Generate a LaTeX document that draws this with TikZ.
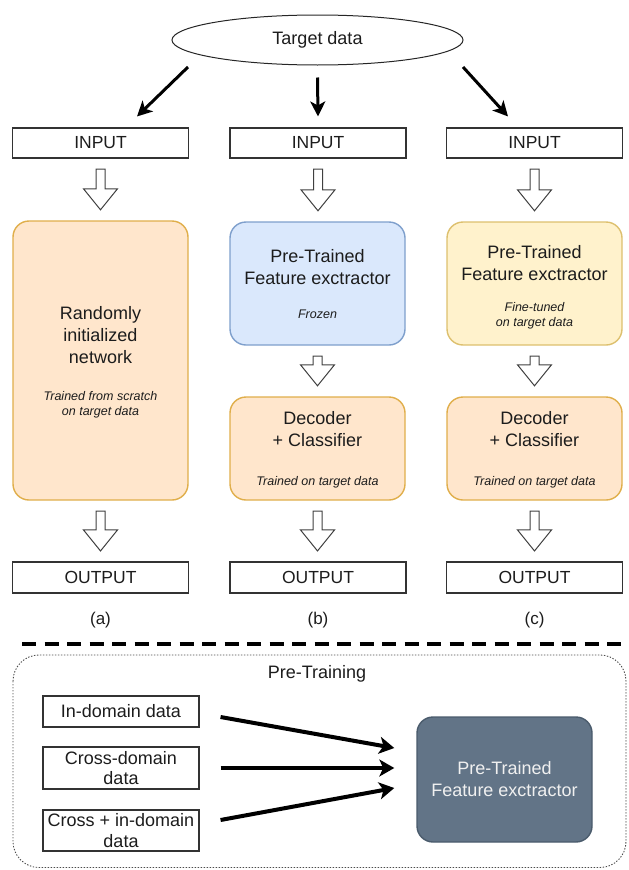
\documentclass[tikz,border=0pt]{standalone}
\usepackage{fontspec}
\setmainfont{Liberation Sans}
\usetikzlibrary{arrows.meta,calc,shapes.geometric}
\definecolor{orfill}{HTML}{FFE6CC}\definecolor{orline}{HTML}{E0AE4A}
\definecolor{blfill}{HTML}{DAE8FC}\definecolor{blline}{HTML}{7E9FCC}
\definecolor{yefill}{HTML}{FFF2CC}\definecolor{yeline}{HTML}{DDC06E}
\definecolor{dkfill}{HTML}{627487}\definecolor{dkline}{HTML}{4A5B6C}
\definecolor{txt}{HTML}{1C1C1C}
\newcommand\hollowarr[2]{%
  \path[hol] let \p1=($(#1.south)+(0,-10.5pt)$), \p2=($(#2.north)+(0,10.5pt)$) in
    (\x1-4.5pt,\y1) -- (\x1+4.5pt,\y1) -- (\x1+4.5pt,\y2+21pt) -- (\x1+17pt,\y2+21pt)
    -- (\x1,\y2) -- (\x1-17pt,\y2+21pt) -- (\x1-4.5pt,\y2+21pt) -- cycle;}
\begin{document}
\begin{tikzpicture}[x=1pt,y=-1pt,
  every node/.style={text=txt, font=\fontsize{18}{22}\selectfont},
  plainbox/.style={draw=black!80, line width=1.1pt, minimum width=176pt, inner sep=0pt,
                   font=\fontsize{17.5}{21}\selectfont},
  databox/.style={draw=black!80, line width=1.1pt, minimum width=156pt, inner sep=0pt,
                  align=center, font=\fontsize{18}{20.5}\selectfont},
  rbox/.style={line width=1.4pt, rounded corners=16pt, minimum width=175pt, inner sep=0pt},
  orbox/.style={rbox, fill=orfill, draw=orline},
  blbox/.style={rbox, fill=blfill, draw=blline},
  yebox/.style={rbox, fill=yefill, draw=yeline},
  dkbox/.style={rbox, fill=dkfill, draw=dkline, text=white!94!black, align=center},
  maintxt/.style={align=center},
  note/.style={align=center, font=\fontsize{12.5}{15}\selectfont\itshape},
  blackarrow/.style={line width=3pt, -{Stealth[length=15pt,width=15pt,inset=4pt]}},
  fatarrow/.style={line width=4pt, -{Stealth[length=15pt,width=17pt,inset=4pt]}},
  hol/.style={draw=black!75, fill=white, line width=1pt, line join=miter},
  sublabel/.style={font=\fontsize{17}{20}\selectfont}
]
\useasboundingbox (0,0) rectangle (629,870);

% top ellipse
\node[draw=black!85, ellipse, line width=1pt, minimum width=291pt, minimum height=50pt, inner sep=0pt]
  (target) at (317.5,40) {Target data};

% inputs
\node[plainbox, minimum height=30pt] (inA) at (100.5,143) {INPUT};
\node[plainbox, minimum height=30pt] (inB) at (318,143) {INPUT};
\node[plainbox, minimum height=30pt] (inC) at (534.5,143) {INPUT};

\draw[blackarrow] ($(target.center)+(-129.5pt,-27pt)$) -- ($(inA.north)+(36.5pt,11pt)$);
\draw[blackarrow] ($(target.south)+(0,-12pt)$) -- ($(inB.north)+(0,11pt)$);
\draw[blackarrow] ($(target.center)+(145.5pt,-27pt)$) -- ($(inC.north)+(-26.5pt,11pt)$);

% column a
\node[orbox, minimum height=279pt] (boxA) at (100.5,360.5) {};
\node[maintxt] (tA) at (100.5,335) {Randomly\\initialized\\network};
\node[note] (nA) at (100.5,405) {Trained from scratch\\on target data};

% column b
\node[blbox, minimum height=123pt] (featB) at (317.5,283.5) {};
\node[maintxt] (tB) at (317.5,267) {Pre-Trained\\Feature exctractor};
\node[note] (nB) at (317.5,314) {Frozen};
\node[orbox, minimum height=103pt] (decB) at (317.5,448.5) {};
\node[maintxt] (dB) at (317.5,429) {Decoder\\+ Classifier};
\node[note] (ndB) at (317.5,482) {Trained on target data};

% column c
\node[yebox, minimum height=123pt] (featC) at (534.5,283.5) {};
\node[maintxt] (tC) at (534.5,263.5) {Pre-Trained\\Feature exctractor};
\node[note] (nC) at (534.5,315.5) {Fine-tuned\\on target data};
\node[orbox, minimum height=103pt] (decC) at (534.5,448.5) {};
\node[maintxt] (dC) at (534.5,429) {Decoder\\+ Classifier};
\node[note] (ndC) at (534.5,482) {Trained on target data};

% outputs
\node[plainbox, minimum height=31pt] (outA) at (100.5,577.5) {OUTPUT};
\node[plainbox, minimum height=31pt] (outB) at (318,577.5) {OUTPUT};
\node[plainbox, minimum height=31pt] (outC) at (534.5,577.5) {OUTPUT};

\node[sublabel] (la) at (100.5,620) {(a)};
\node[sublabel] (lb) at (318,620) {(b)};
\node[sublabel] (lc) at (534.5,620) {(c)};

% hollow arrows
\hollowarr{inA}{boxA}
\hollowarr{inB}{featB}
\hollowarr{inC}{featC}
\hollowarr{featB}{decB}
\hollowarr{featC}{decC}
\hollowarr{boxA}{outA}
\hollowarr{decB}{outB}
\hollowarr{decC}{outC}

% separator
\draw[line width=4pt, dash pattern=on 14pt off 8.5pt] (22,644) -- (629,644);

% pre-training container
\draw[black!70, line width=0.9pt, dash pattern=on 1.4pt off 1.6pt, rounded corners=26pt]
  (13,655) rectangle (626,867.5);
\node (ptlabel) at (317,674) {Pre-Training};

\node[databox, minimum height=31pt] (inDom) at (121,711.5) {In-domain data};
\node[databox, minimum height=42pt] (crossD) at (121,768) {Cross-domain\\data};
\node[databox, minimum height=41pt] (crossIn) at (121,830.5) {Cross + in-domain\\data};

\node[dkbox, minimum height=125pt] (dark) at (504.5,779.5) {Pre-Trained\\Feature exctractor};

\draw[fatarrow] ($(inDom.east)+(21pt,-5.5pt)$) -- ($(dark.west)+(-22pt,31.5pt)$);
\draw[fatarrow] ($(crossD.east)+(21pt,0pt)$) -- ($(dark.west)+(-22pt,11.5pt)$);
\draw[fatarrow] ($(crossIn.east)+(21pt,10.5pt)$) -- ($(dark.west)+(-22pt,-8.5pt)$);
\end{tikzpicture}
\end{document}
